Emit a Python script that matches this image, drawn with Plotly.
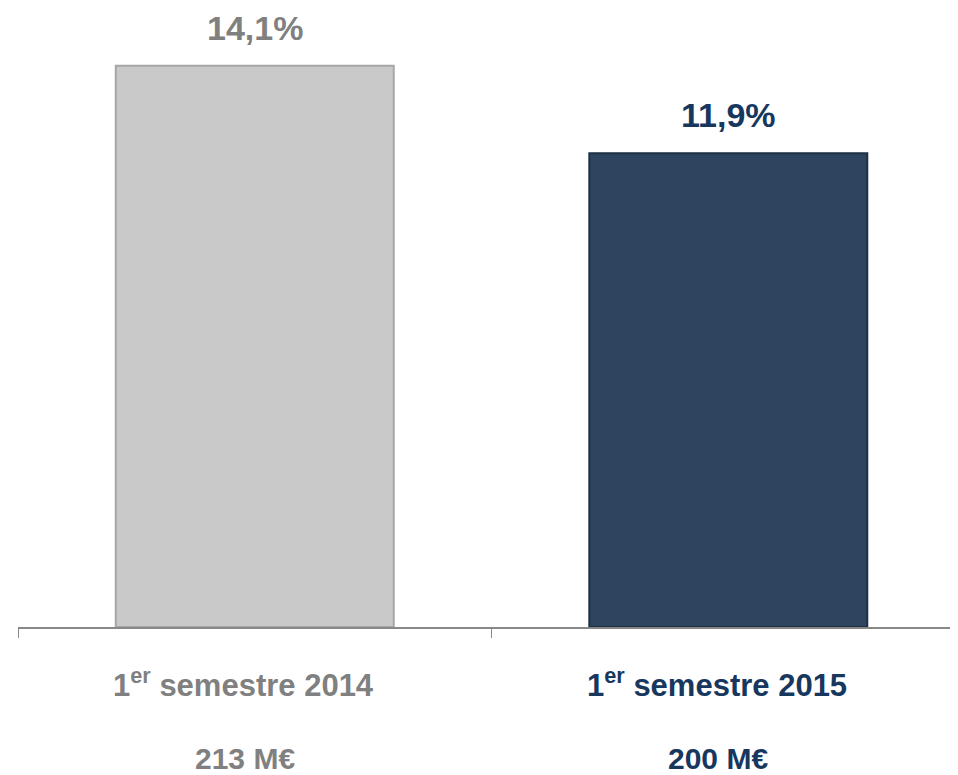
import plotly.graph_objects as go

categories = ["1<sup>er</sup> semestre 2014", "1<sup>er</sup> semestre 2015"]
keys = ["S1 2014", "S1 2015"]
rates = [14.1, 11.9]
rate_labels = ["14,1%", "11,9%"]
amounts = ["213 M€", "200 M€"]
bar_colors = ["#C9C9C9", "#2F455F"]
edge_colors = ["#A6A6A6", "#1E2F44"]
text_colors = ["#808080", "#17375E"]

fig = go.Figure()
fig.add_trace(go.Bar(
    x=keys, y=rates, width=0.587,
    marker=dict(color=bar_colors, line=dict(color=edge_colors, width=2)),
    hoverinfo="skip",
))

font_family = "Liberation Sans, Arial, sans-serif"
for xi, r, lab, cat, amt, col in zip(keys, rates, rate_labels, categories, amounts, text_colors):
    fig.add_annotation(x=xi, y=r, xref="x", yref="y", text=f"<b>{lab}</b>",
                       showarrow=False, yanchor="middle", yshift=38, borderpad=0,
                       font=dict(family=font_family, size=34, color=col))
    fig.add_annotation(x=xi, y=0, xref="x", yref="y", text=f"<b>{cat}</b>",
                       showarrow=False, yanchor="middle", yshift=-56, xshift=-11,
                       font=dict(family=font_family, size=31, color=col))
    fig.add_annotation(x=xi, y=0, xref="x", yref="y", text=f"<b>{amt}</b>",
                       showarrow=False, yanchor="middle", yshift=-131, xshift=-10,
                       borderpad=0,
                       font=dict(family=font_family, size=30, color=col))

fig.update_layout(
    width=958, height=775,
    margin=dict(l=10, r=0, t=0, b=156),
    paper_bgcolor="white", plot_bgcolor="white",
    showlegend=False,
    xaxis=dict(type="category", range=[-0.5, 1.502], showline=True,
               linecolor="#888888", linewidth=2,
               ticks="outside", tickson="boundaries", ticklen=9, tickcolor="#888888",
               tickwidth=1, showticklabels=False, showgrid=False,
               zeroline=False, fixedrange=True),
    yaxis=dict(range=[0, 15.55], visible=False, showgrid=False, zeroline=False,
               fixedrange=True),
)

fig.write_html("out.html")
